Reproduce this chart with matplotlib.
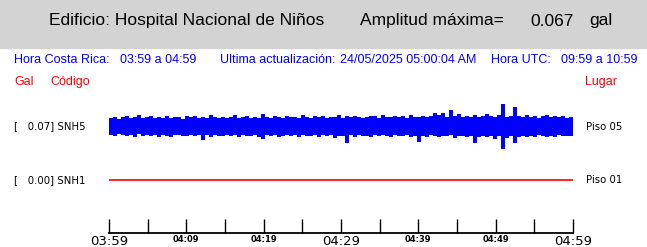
"""
Registro de aceleración del edificio: dos sensores, una hora (03:59 a 04:59).
Guarda out.png de 647x247.
"""

import numpy as np
import matplotlib
matplotlib.use("Agg")
import matplotlib.pyplot as plt
from matplotlib.patches import Rectangle

# --- datos ---
EDIFICIO = "Hospital Nacional de Niños"
AMPLITUD_MAX = 0.067
HORA_CR = "03:59 a 04:59"
HORA_UTC = "09:59 a 10:59"
ACTUALIZACION = "24/05/2025 05:00:04 AM"

codigos = ["SNH5", "SNH1"]
lugares = ["Piso 05", "Piso 01"]
maximos = [0.07, 0.00]

# minutos desde 03:59
ticks_min = list(range(0, 61, 5))
tick_labels = ["03:59", "", "04:09", "", "04:19", "", "04:29",
               "", "04:39", "", "04:49", "", "04:59"]

# envolvente del registro SNH5 en mgal
snh5_sup_mgal = [25, 28, 23, 27, 30, 24, 29, 33, 26, 27,
                 31, 24, 28, 26, 32, 25, 29, 27, 23, 30,
                 27, 31, 25, 28, 26, 34, 27, 24, 29, 26,
                 28, 33, 24, 27, 30, 26, 29, 25, 35, 27,
                 26, 32, 28, 24, 30, 27, 29, 25, 33, 28,
                 26, 30, 27, 31, 25, 29, 28, 34, 26, 30,
                 27, 31, 29, 24, 28, 32, 30, 26, 33, 29,
                 28, 31, 27, 30, 26, 33, 29, 27, 31, 28,
                 30, 40, 33, 38, 29, 48, 31, 35, 28, 32,
                 29, 33, 27, 31, 36, 30, 28, 34, 66, 29,
                 31, 57, 30, 27, 33, 29, 32, 26, 30, 33,
                 28, 31, 27, 30, 26, 29]
snh5_inf_mgal = [-24, -27, -22, -26, -29, -25, -31, -23, -27, -26,
                 -28, -25, -30, -24, -27, -32, -26, -24, -29, -27,
                 -25, -28, -24, -39, -26, -30, -25, -28, -27, -24,
                 -29, -26, -31, -25, -27, -28, -24, -30, -37, -26,
                 -28, -25, -30, -27, -24, -29, -26, -31, -25, -28,
                 -27, -24, -30, -26, -28, -25, -33, -27, -29, -48,
                 -26, -30, -25, -28, -27, -31, -24, -29, -26, -28,
                 -30, -25, -27, -29, -26, -32, -28, -45, -27, -30,
                 -26, -29, -31, -27, -28, -25, -33, -29, -27, -30,
                 -28, -49, -30, -27, -32, -29, -35, -28, -67, -33,
                 -29, -48, -31, -27, -30, -28, -32, -26, -29, -31,
                 -27, -30, -26, -29, -28, -27]
snh1 = [0.0, 0.0]

W, H = 647, 247
GRIS, AZUL, ROJO = "#d3d3d3", "#0000ff", "#ff0000"
SANS = "Liberation Sans"


def fx(x):
    return x / W


def fy(y):
    return 1 - y / H


fig = plt.figure(figsize=(W / 100, H / 100), dpi=100)
fig.patches.append(Rectangle((0, fy(48)), 1, 48 / H, transform=fig.transFigure,
                             color=GRIS, zorder=0))

# --- encabezado ---
for x, s in [(49, f"Edificio: {EDIFICIO}"), (360, "Amplitud máxima="),
             (530, f"{AMPLITUD_MAX:.3f}"), (589, "gal")]:
    fig.text(fx(x), fy(21), s, fontsize=12.5, family=SANS, va="center")

for x, s in [(14, "Hora Costa Rica:"), (120, HORA_CR), (220, "Ultima actualización:"),
             (340, ACTUALIZACION), (491, "Hora UTC:"), (561, HORA_UTC)]:
    fig.text(fx(x), fy(60), s, fontsize=9, family=SANS, color=AZUL, va="center")

for x, s in [(14, "Gal"), (50, "Código"), (585, "Lugar")]:
    fig.text(fx(x), fy(82), s, fontsize=9, family=SANS, color=ROJO, va="center")

# --- trazas ---
y_eje, y_top = 232.7, 95
ax = fig.add_axes([fx(109), fy(y_eje), (573 - 109) / W, (y_eje - y_top) / H])
ax.set_xlim(0, 60)
ax.set_ylim(0, y_eje - y_top)
ganancia = 343  # px por gal
centros = [y_eje - 126.5, y_eje - 180]

sup = np.array(snh5_sup_mgal) / 1000
inf = np.array(snh5_inf_mgal) / 1000
bordes = np.linspace(0, 60, len(sup) + 1)
ax.stairs(centros[0] + sup * ganancia, bordes,
          baseline=centros[0] + inf * ganancia,
          fill=True, color=AZUL, lw=0)
ax.plot([0, 60], centros[1] + np.array(snh1) * ganancia, color=ROJO, lw=1.2)

for yc, cod, lug, m in zip(centros, codigos, lugares, maximos):
    ypx = y_eje - yc
    fig.text(fx(14), fy(ypx), f"[   {m:.2f}] {cod}", fontsize=7.3, va="center")
    fig.text(fx(586), fy(ypx), lug, fontsize=7.3, va="center")

for s in ["top", "left", "right"]:
    ax.spines[s].set_visible(False)
ax.spines["bottom"].set_linewidth(1.3)
ax.set_yticks([])
ax.set_xticks(ticks_min)
ax.set_xticklabels(tick_labels)
ax.tick_params(axis="x", direction="in", length=10, width=1, pad=2)
for t, s in zip(ax.get_xticklabels(), tick_labels):
    if s in ("03:59", "04:29", "04:59"):
        t.set_fontsize(9.5)
    else:
        t.set_fontsize(6)
        t.set_fontweight("bold")

fig.savefig("out.png", dpi=100)
